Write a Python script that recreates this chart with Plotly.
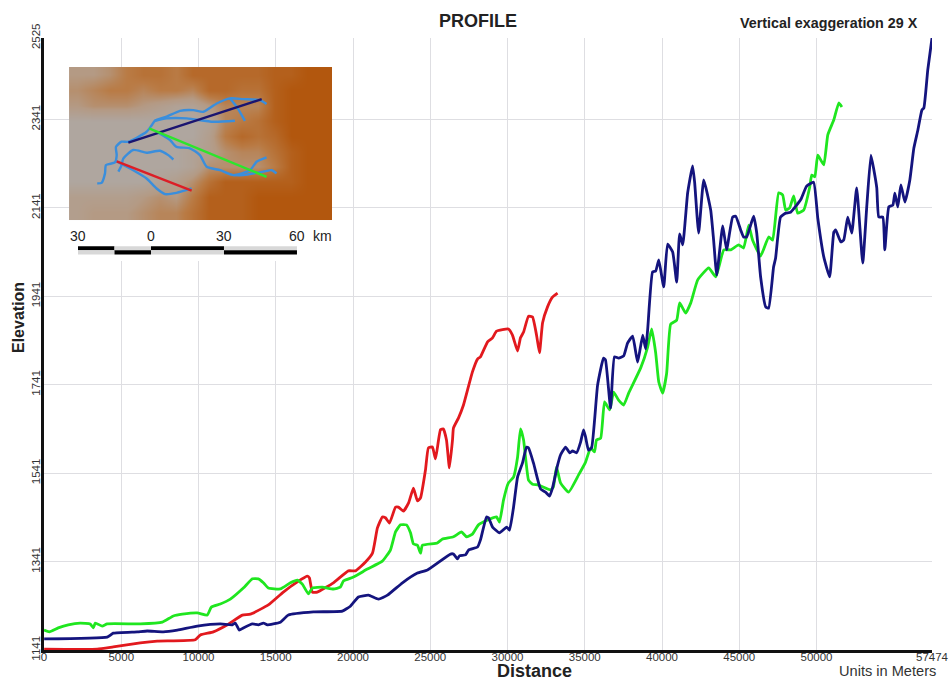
import plotly.graph_objects as go

# ---------- profile data (metres along profile, elevation in metres) ----------
red_x = [10,3450,4480,6230,7330,9790,10120,10960,11870,12840,13360,14520,15490,16400,17050,17180,17370,17690,18730,19700,20160,20810,21260,21580,21900,22100,22360,22750,22940,23260,23590,23910,24170,24370,24690,24880,25140,25340,25660,25850,26050,26240,26440,26500,26830,27150,27730,28060,28250,28710,29030,29290,30060,30320,30650,30840,31040,31360,31620,31880,32070,32270,32590,32910,33240]
red_y = [1143,1143,1148,1157,1161,1164,1175,1182,1198,1220,1222,1243,1272,1295,1308,1304,1272,1272,1293,1320,1320,1340,1360,1417,1442,1440,1428,1464,1464,1455,1473,1507,1478,1485,1548,1598,1600,1573,1639,1641,1616,1553,1616,1643,1666,1695,1770,1799,1804,1838,1847,1862,1867,1853,1817,1847,1860,1896,1894,1853,1813,1881,1917,1939,1948]

green_x = [0,340,920,1570,2340,2990,3190,3320,3770,4090,6230,7660,8370,8950,9920,10570,10830,11410,12060,12900,13490,13870,14200,14520,15300,15950,16400,16720,17110,17370,18020,18730,19180,19380,20030,20930,21900,22420,22750,23070,23460,23720,23910,24170,24370,24490,25460,25790,26500,27020,27350,27730,28120,28710,29290,29480,29740,30060,30390,30650,30840,31040,31360,31620,32000,32780,32970,33170,33430,33950,34600,35050,35380,35630,35760,36030,36280,36610,36870,37190,37520,37840,38620,39070,39330,39590,39790,40040,40300,40560,40950,41140,41530,41860,42310,43020,43480,44000,44450,44960,45280,45610,45860,46380,46900,47160,47550,47810,48000,48260,48520,48780,49170,49560,49690,49890,50080,50470,50730,51120,51440,51640]
green_y = [1186,1182,1191,1198,1202,1200,1191,1202,1195,1200,1200,1204,1218,1222,1225,1220,1238,1245,1256,1281,1302,1302,1293,1281,1279,1293,1299,1290,1268,1281,1283,1279,1283,1297,1306,1324,1342,1367,1408,1424,1424,1406,1381,1378,1360,1378,1383,1392,1397,1408,1397,1403,1424,1435,1442,1430,1480,1519,1532,1577,1641,1616,1525,1516,1514,1503,1510,1555,1519,1498,1537,1566,1598,1589,1616,1620,1702,1684,1724,1706,1695,1722,1779,1826,1867,1813,1747,1722,1767,1878,1887,1926,1903,1926,1978,2005,1985,2046,2046,2057,2050,2102,2068,2032,2075,2068,2175,2170,2136,2141,2168,2129,2136,2188,2215,2211,2260,2238,2306,2340,2378,2369]

blue_x = [10,4090,4480,6040,6680,7720,8630,9920,11410,12190,12380,12640,12900,13490,13870,14200,14460,14840,15300,15820,17440,19310,19830,20350,21000,21650,22230,23200,24170,24820,26310,26500,26760,26890,27280,27480,28060,28250,28640,28770,29030,29480,29940,30130,30390,30650,30970,31230,31360,31680,32140,32460,32720,32910,33240,33430,33760,34020,34210,34470,34730,34920,35050,35240,35440,35830,36210,36340,36670,36920,37190,37520,37770,38100,38420,38750,38940,39070,39390,39590,39790,40110,40360,40690,40950,41140,41340,41660,41980,42110,42370,42700,43150,43340,43540,43930,44180,44570,44770,45090,45280,45480,45930,46130,46380,46710,46900,47220,47350,47670,48000,48320,48970,49360,49810,50080,50470,50850,51120,51240,51570,51760,52020,52280,52600,52990,53250,53520,53710,53900,54030,54290,54420,54680,54940,55070,55260,55460,55720,56040,56300,56560,56820,56950,57200,57474]
blue_y = [1166,1170,1179,1182,1184,1182,1186,1195,1200,1198,1202,1186,1191,1200,1198,1202,1198,1200,1204,1220,1227,1229,1240,1261,1265,1256,1265,1293,1315,1322,1358,1358,1347,1354,1356,1367,1374,1390,1442,1440,1419,1406,1419,1412,1464,1532,1564,1600,1598,1564,1505,1498,1489,1507,1559,1582,1600,1587,1591,1587,1611,1639,1623,1593,1598,1740,1801,1797,1688,1804,1801,1806,1835,1851,1792,1853,1822,1865,1996,1998,2023,1962,2059,2041,1973,2082,2057,2175,2236,2199,2084,2204,2136,2068,1989,2100,2046,2120,2122,2091,2075,2075,2122,2084,1985,1917,1914,2007,2027,2120,2129,2131,2159,2190,2199,2118,2030,1985,2086,2091,2064,2068,2120,2084,2186,2016,2143,2260,2227,2186,2120,2120,2046,2143,2147,2174,2143,2193,2154,2204,2276,2317,2362,2367,2453,2525]

x_ticks = [0,5000,10000,15000,20000,25000,30000,35000,40000,45000,50000,57474]
x_tick_labels = ["0","5000","10000","15000","20000","25000","30000","35000","40000","45000","50000","57474"]
y_ticks = [1141,1341,1541,1741,1941,2141,2341,2525]
y_tick_labels = ["1141","1341","1541","1741","1941","2141","2341","2525"]

# ---------- inset relief map (coarse relief classes, km grid) ----------
relief = [
    [3,3,4,6,7,7,6,8,8,8,8,8,9,9,10,10],
    [4,5,6,6,5,6,6,5,8,8,7,7,9,10,10,10],
    [3,4,4,4,3,2,1,1,3,5,5,5,9,10,10,10],
    [0,0,0,0,0,0,0,0,1,5,6,7,9,10,10,10],
    [0,0,0,0,0,0,0,0,2,6,8,7,8,10,10,10],
    [0,0,0,0,0,0,0,1,2,4,5,5,7,9,10,10],
    [0,0,0,0,0,0,0,1,4,4,4,4,6,9,10,10],
    [0,0,0,0,0,1,2,4,7,9,9,9,9,9,10,10],
    [2,2,2,2,3,4,3,6,9,9,9,10,10,10,10,10],
    [2,3,3,3,4,5,5,7,9,9,9,10,10,10,10,10],
]
rivers = [
    ([-22.1,-20.3,-18.9,-18.5,-14.8,-14.1,-14.4,-12.1,-9.3,-1.8,0.3,1.6,6.4,11.9,17.4,21.5,27,32.5,37.9,44.8,47.5],
     [15.1,15.3,19.2,22.6,23.7,26.7,30.1,32.2,32.2,36.3,39,40.8,42.5,44.9,45.2,44.5,47.9,50,49.7,49.3,47.7]),
    ([1.6,6.4,14.7,25.6,34.5], [40.8,41.8,41.8,40.4,40.8]),
    ([32.5,35.2,38.6], [50,46.6,40.8]),
    ([2.3,7.8,10.5,16,20.1,22.9,28.4,33.8,40.7,43.4,47.5], [36.3,32.9,30.1,29.5,26.7,21.9,20.5,18.5,20.5,24,25.8]),
    ([33.8,37.9,46.2,49.6,51.6], [18.5,18.5,19.9,20.5,19.2]),
    ([-13.4,-12.1,-11.4,-7.3,-1.8,3.7,7.1,9.2], [19.9,22.6,25.3,28.8,27.7,28.5,26.7,24.9]),
    ([-14.1,-7.3,-1.8,2.3,5.8,10.5,16.7], [24.1,20.5,17.1,13,10.7,11.2,13]),
]
section_navy = ([-9.3,45.5], [31.8,49.7])
section_green = ([-0.8,47.5], [37.7,17.8])
section_red = ([-14.1,16.7], [24.1,12.1])
scale_km = [-30,-15,0,30,60]
scale_labels = ["30","0","30","60"]
scale_label_km = [-30,0,30,60]

W, H = 949, 680
L, R, T, B = 44, 932, 38, 650
MAP_L, MAP_R, MAP_T, MAP_BOT = 69, 332, 67, 261
def px(x): return (x - L) / (R - L)
def py(y): return (B - y) / (B - T)

RED, GREEN, NAVY = "#E2191E", "#1FE61F", "#14147E"
fig = go.Figure()

for xs, ys, c in [(red_x, red_y, RED), (green_x, green_y, GREEN), (blue_x, blue_y, NAVY)]:
    fig.add_trace(go.Scatter(x=xs, y=ys, mode="lines", cliponaxis=True,
                             line=dict(color=c, width=2.8, shape="spline", smoothing=0.4, simplify=False),
                             showlegend=False, hoverinfo="skip"))

# inset map
fig.add_trace(go.Heatmap(z=relief, x0=-30.3, dx=6.756, y0=59.75, dy=-6.29, xaxis="x2", yaxis="y2",
                         zsmooth="best", showscale=False, hoverinfo="skip", zmin=0, zmax=10,
                         colorscale=[[0,"#AFA69F"],[0.3,"#B49A84"],[0.6,"#B97B45"],[1,"#B2570E"]]))
for rx, ry in rivers:
    fig.add_trace(go.Scatter(x=rx, y=ry, xaxis="x2", yaxis="y2", mode="lines", showlegend=False,
                             hoverinfo="skip", line=dict(color="#3A8EDC", width=2.4, shape="spline", smoothing=0.6)))
for (sx, sy), c in [(section_navy, "#1A1470"), (section_green, "#2CE52C"), (section_red, "#DC1E26")]:
    fig.add_trace(go.Scatter(x=sx, y=sy, xaxis="x2", yaxis="y2", mode="lines", showlegend=False,
                             hoverinfo="skip", line=dict(color=c, width=2.4)))

# scale bar (alternating segments)
BAR_A, BAR_B, BAR_C = -10.7, -12.4, -14.1
shapes = []
for i in range(4):
    upper = i % 2 == 0
    x0, x1 = scale_km[i], scale_km[i + 1]
    shapes.append(dict(type="rect", xref="x2", yref="y2", x0=x0, x1=x1,
                       y0=BAR_B, y1=BAR_A, line_width=0, fillcolor="#000000" if upper else "#D8D8D8"))
    shapes.append(dict(type="rect", xref="x2", yref="y2", x0=x0, x1=x1,
                       y0=BAR_C, y1=BAR_B, line_width=0, fillcolor="#D8D8D8" if upper else "#000000"))

FONT = "Liberation Sans, Arial, sans-serif"
annotations = [
    dict(text="<b>PROFILE</b>", x=px(478), y=py(21), size=18, color="#222"),
    dict(text="<b>Vertical exaggeration 29 X</b>", x=px(829), y=py(23), size=14.3, color="#222"),
    dict(text="<b>Elevation</b>", x=px(18), y=py(318), size=16, color="#222", textangle=-90),
    dict(text="<b>Distance</b>", x=px(534.5), y=py(671), size=18, color="#222"),
    dict(text="Units in Meters", x=px(887), y=py(671), size=14.6, color="#333"),
]
for a in annotations:
    size, color = a.pop("size"), a.pop("color")
    a.update(xref="paper", yref="paper", showarrow=False, xanchor="center", yanchor="middle",
             font=dict(family=FONT, size=size, color=color))
for k, t in zip(scale_label_km, scale_labels):
    annotations.append(dict(text=t, x=k, y=-6.5, xref="x2", yref="y2", showarrow=False,
                            font=dict(family=FONT, size=14, color="#222")))
annotations.append(dict(text="km", x=70.5, y=-6.5, xref="x2", yref="y2", showarrow=False,
                        font=dict(family=FONT, size=14, color="#222")))

grid = "#DEDEE2"
fig.update_layout(
    width=W, height=H, autosize=False, showlegend=False,
    paper_bgcolor="white", plot_bgcolor="white",
    margin=dict(l=L, r=W - R, t=T, b=H - B, pad=0),
    font=dict(family=FONT, color="#333"),
    xaxis=dict(range=[0, 57474], tickvals=x_ticks, ticktext=x_tick_labels, ticks="", tickangle=0,
               automargin=False, ticklabelstandoff=-6,
               showgrid=True, gridcolor=grid, gridwidth=1, zeroline=False, tickfont=dict(size=11.5, color="#333"),
               showline=True, linecolor="#111", linewidth=3),
    yaxis=dict(range=[1141, 2525], tickvals=y_ticks, ticktext=y_tick_labels, ticks="", tickangle=-90,
               automargin=False, ticklabelstandoff=-4,
               showgrid=True, gridcolor=grid, gridwidth=1, zeroline=False, tickfont=dict(size=11.5, color="#333"),
               showline=True, linecolor="#111", linewidth=3),
    xaxis2=dict(domain=[px(MAP_L), px(MAP_R)], range=[-33.7, 74.4], anchor="y2", visible=False, fixedrange=True),
    yaxis2=dict(domain=[py(MAP_BOT), py(MAP_T)], range=[-16.8, 62.9], anchor="x2", visible=False, fixedrange=True),
    shapes=shapes, annotations=annotations,
)
# let the figure fill the 949x680 page exactly; no hover toolbar over the title
fig.write_html("out.html", config={"displayModeBar": False},
               post_script="document.body.style.margin='0';document.documentElement.style.overflow='hidden';")
